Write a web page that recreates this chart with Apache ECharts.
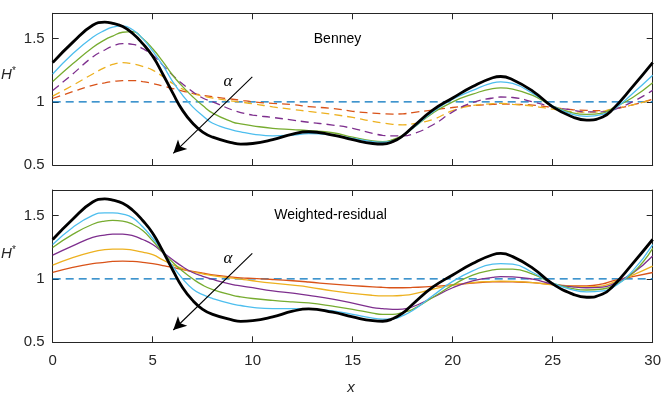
<!DOCTYPE html>
<html>
<head>
<meta charset="utf-8">
<script src="https://cdn.jsdelivr.net/npm/echarts@6/dist/echarts.min.js"></script>
<style>
  html, body { margin: 0; padding: 0; background: #fff; }
  #chart { width: 664px; height: 393px; }
</style>
</head>
<body>
<div id="chart"></div>
<script>
// x positions shared by every curve (denser near the crests and troughs)
var xs = [0,1,2,2.6,3,3.5,4,4.5,5,5.5, 6,6.5,7,7.5,8,9,9.4,10,11,12, 12.8,14,15,16,16.5,17,17.5,18,19,20, 21,22,22.4,23,24,25,26,26.7,27.5,28, 29,30];

// reference profile (thick black), same in both panels
var hRef = [1.31,1.47,1.605,1.63,1.62,1.595,1.54,1.46,1.36,1.22, 1.07,0.93,0.83,0.76,0.72,0.675,0.665,0.67,0.70,0.745, 0.763,0.737,0.70,0.67,0.666,0.685,0.73,0.80,0.934,1.03, 1.12,1.19,1.2,1.175,1.085,0.96,0.88,0.855,0.88,0.94, 1.12,1.31];

// Benney panel
var benBlue   = [1.22,1.38,1.51,1.565,1.59,1.60,1.57,1.50,1.40,1.29, 1.16,1.05,0.96,0.89,0.83,0.776,0.762,0.745,0.73,0.737, 0.748,0.737,0.71,0.685,0.68,0.69,0.73,0.79,0.92,1.02, 1.09,1.15,1.158,1.145,1.066,0.966,0.90,0.885,0.90,0.934, 1.066,1.21];
var benGreen  = [1.16,1.30,1.43,1.49,1.52,1.55,1.555,1.50,1.42,1.32, 1.21,1.12,1.04,0.97,0.91,0.84,0.825,0.81,0.79,0.78, 0.772,0.755,0.72,0.69,0.685,0.70,0.735,0.79,0.91,1.0, 1.06,1.105,1.11,1.10,1.05,0.966,0.913,0.90,0.91,0.95, 1.034,1.15];
var benPurple = [1.09,1.22,1.355,1.41,1.44,1.46,1.455,1.42,1.37,1.29, 1.21,1.14,1.08,1.03,1.0,0.934,0.915,0.895,0.876,0.855, 0.838,0.816,0.79,0.75,0.735,0.73,0.73,0.745,0.816,0.92, 0.995,1.03,1.038,1.034,1.0,0.96,0.934,0.92,0.92,0.934, 1.0,1.09];
var benYellow = [1.045,1.13,1.22,1.27,1.295,1.31,1.30,1.28,1.25,1.20, 1.145,1.10,1.066,1.045,1.03,1.005,0.997,0.985,0.96,0.94, 0.924,0.90,0.876,0.845,0.832,0.822,0.818,0.825,0.86,0.93, 0.97,0.985,0.987,0.98,0.966,0.942,0.922,0.918,0.925,0.945, 0.975,1.02];
var benRed    = [1.026,1.08,1.13,1.15,1.16,1.168,1.168,1.16,1.145,1.125, 1.105,1.085,1.066,1.052,1.04,1.02,1.012,1.0,0.987,0.978, 0.962,0.947,0.925,0.91,0.905,0.903,0.905,0.915,0.935,0.955, 0.97,0.98,0.982,0.98,0.974,0.955,0.937,0.932,0.93,0.94, 0.975,1.02];

// Weighted-residual panel
var wrBlue   = [1.27,1.405,1.50,1.52,1.52,1.51,1.48,1.41,1.32,1.22, 1.10,1.0,0.92,0.875,0.845,0.80,0.79,0.775,0.766,0.766, 0.762,0.747,0.72,0.69,0.683,0.685,0.71,0.75,0.866,0.98, 1.063,1.116,1.12,1.116,1.05,0.966,0.913,0.897,0.905,0.93, 1.063,1.27];
var wrGreen  = [1.247,1.35,1.43,1.455,1.46,1.455,1.43,1.38,1.30,1.21, 1.13,1.06,1.0,0.95,0.915,0.87,0.858,0.845,0.83,0.818, 0.81,0.785,0.76,0.73,0.72,0.72,0.735,0.76,0.853,0.95, 1.03,1.07,1.077,1.076,1.037,0.966,0.924,0.912,0.92,0.945, 1.045,1.24];
var wrPurple = [1.187,1.26,1.326,1.345,1.353,1.352,1.34,1.31,1.27,1.21, 1.15,1.095,1.05,1.02,0.995,0.955,0.945,0.93,0.905,0.887, 0.87,0.84,0.808,0.774,0.765,0.76,0.762,0.78,0.853,0.93, 0.984,1.012,1.018,1.016,0.997,0.958,0.937,0.93,0.935,0.958, 1.045,1.18];
var wrYellow = [1.108,1.168,1.213,1.23,1.234,1.234,1.226,1.21,1.19,1.15, 1.11,1.08,1.055,1.04,1.025,1.005,0.998,0.985,0.966,0.95, 0.935,0.905,0.885,0.87,0.866,0.866,0.87,0.88,0.918,0.95, 0.97,0.98,0.982,0.98,0.97,0.953,0.94,0.937,0.945,0.97, 1.03,1.10];
var wrRed    = [1.05,1.09,1.12,1.13,1.137,1.14,1.137,1.13,1.12,1.105, 1.09,1.073,1.058,1.045,1.032,1.014,1.008,1.003,0.995,0.985, 0.975,0.958,0.947,0.937,0.933,0.93,0.93,0.932,0.94,0.953, 0.966,0.976,0.977,0.976,0.97,0.955,0.945,0.945,0.96,0.984, 1.018,1.05];

// flat film
var flatX = [0, 30];
var flatH = [1, 1];

var yTicks = [0.5, 1, 1.5];

var axisCol = '#262626';
var fontFam = '"Liberation Sans", Arial, sans-serif';

function pairs(x, y) {
    var out = [];
    for (var i = 0; i < x.length; i++) out.push([x[i], y[i]]);
    return out;
}

function xAx(grid, pos, labels) {
    return {
        type: 'value', gridIndex: grid, position: pos, min: 0, max: 30, interval: 5,
        axisLine: { show: true, onZero: false, lineStyle: { color: axisCol, width: 1 } },
        axisTick: { show: true, inside: true, length: 6, lineStyle: { color: axisCol } },
        axisLabel: { show: labels, color: axisCol, fontSize: 15, fontFamily: fontFam, margin: 11 },
        splitLine: { show: false }
    };
}

function yAx(grid, pos, labels) {
    return {
        type: 'value', gridIndex: grid, position: pos, min: 0.5, max: 1.7, interval: 0.5,
        axisLine: { show: true, onZero: false, lineStyle: { color: axisCol, width: 1 } },
        axisTick: { show: true, inside: true, length: 6, customValues: yTicks, lineStyle: { color: axisCol } },
        axisLabel: { show: labels, color: axisCol, fontSize: 15, fontFamily: fontFam, margin: 8, customValues: yTicks },
        splitLine: { show: false }
    };
}

function curve(name, grid, y, color, dashed, width) {
    return {
        name: name, type: 'line', xAxisIndex: grid * 2, yAxisIndex: grid * 2,
        data: pairs(xs, y), symbol: 'none', smooth: 0.5, silent: true,
        lineStyle: { color: color, width: width || 1.3, type: dashed ? [8, 5] : 'solid' }
    };
}

function flat(grid, arrowFrom, arrowTo) {
    return {
        name: 'flat', type: 'line', xAxisIndex: grid * 2, yAxisIndex: grid * 2,
        data: pairs(flatX, flatH), symbol: 'none', silent: true,
        lineStyle: { color: '#0072BD', width: 1.3, type: [8, 5] },
        markLine: {
            silent: true, symbol: ['none', 'arrow'], symbolSize: [10, 13],
            label: { show: false },
            lineStyle: { color: '#000', width: 1.1, type: 'solid' },
            data: [[{ coord: arrowFrom }, { coord: arrowTo }]]
        }
    };
}

var chart = echarts.init(document.getElementById('chart'), null, { renderer: 'canvas' });

var option = {
    backgroundColor: '#fff',
    animation: false,
    grid: [
        { left: 52.7, right: 11.3, top: 13.3, height: 151.7 },
        { left: 52.7, right: 11.3, top: 190, height: 152.3 }
    ],
    xAxis: [xAx(0, 'bottom', false), xAx(0, 'top', false), xAx(1, 'bottom', true), xAx(1, 'top', false)],
    yAxis: [yAx(0, 'left', true), yAx(0, 'right', false), yAx(1, 'left', true), yAx(1, 'right', false)],
    series: [
        flat(0, [9.98, 1.197], [6.03, 0.592]),
        curve('red', 0, benRed, '#D95319', true),
        curve('yellow', 0, benYellow, '#EDB120', true),
        curve('purple', 0, benPurple, '#7E2F8E', true),
        curve('green', 0, benGreen, '#77AC30', false),
        curve('lightblue', 0, benBlue, '#4DBEEE', false),
        curve('ref', 0, hRef, '#000', false, 2.8),

        flat(1, [9.98, 1.2], [6.03, 0.597]),
        curve('red', 1, wrRed, '#D95319', false),
        curve('yellow', 1, wrYellow, '#EDB120', false),
        curve('purple', 1, wrPurple, '#7E2F8E', false),
        curve('green', 1, wrGreen, '#77AC30', false),
        curve('lightblue', 1, wrBlue, '#4DBEEE', false),
        curve('ref', 1, hRef, '#000', false, 2.8)
    ],
    graphic: [
        { type: 'text', x: 337.5, y: 39, style: { text: 'Benney', fill: '#000', font: '14px ' + fontFam, align: 'center', verticalAlign: 'middle' } },
        { type: 'text', x: 330.5, y: 215, style: { text: 'Weighted-residual', fill: '#000', font: '14px ' + fontFam, align: 'center', verticalAlign: 'middle' } },
        { type: 'text', x: 228, y: 82, style: { text: 'α', fill: '#000', font: 'italic 17px "Liberation Serif", serif', align: 'center', verticalAlign: 'middle' } },
        { type: 'text', x: 228, y: 259, style: { text: 'α', fill: '#000', font: 'italic 17px "Liberation Serif", serif', align: 'center', verticalAlign: 'middle' } },
        { type: 'text', x: 1, y: 75, style: { text: 'H', fill: axisCol, font: 'italic 15px ' + fontFam, align: 'left', verticalAlign: 'middle' } },
        { type: 'text', x: 12, y: 71, style: { text: '*', fill: axisCol, font: '10px ' + fontFam, align: 'left', verticalAlign: 'middle' } },
        { type: 'text', x: 1, y: 254, style: { text: 'H', fill: axisCol, font: 'italic 15px ' + fontFam, align: 'left', verticalAlign: 'middle' } },
        { type: 'text', x: 12, y: 250, style: { text: '*', fill: axisCol, font: '10px ' + fontFam, align: 'left', verticalAlign: 'middle' } },
        { type: 'text', x: 351, y: 388, style: { text: 'x', fill: axisCol, font: 'italic 15px ' + fontFam, align: 'center', verticalAlign: 'middle' } }
    ]
};

chart.setOption(option);
</script>
</body>
</html>
